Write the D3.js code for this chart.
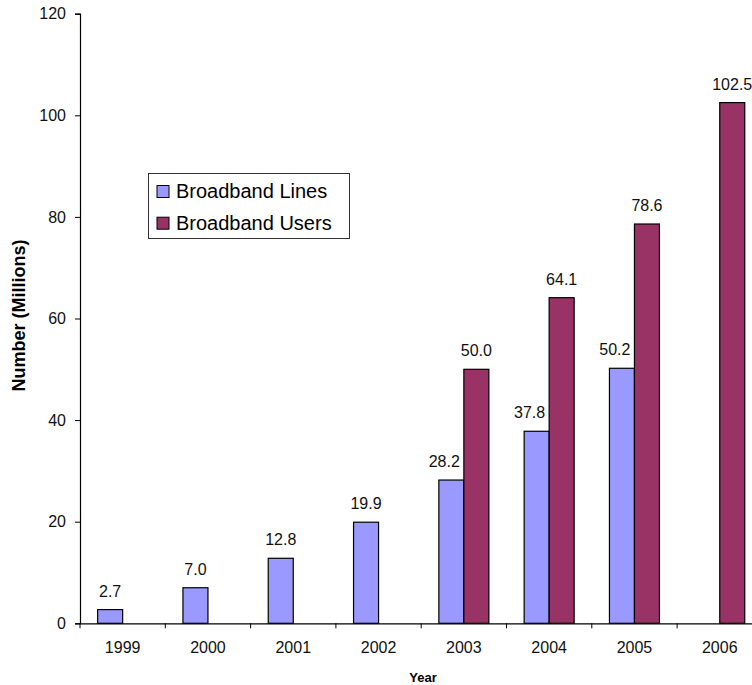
<!DOCTYPE html>
<html>
<head>
<meta charset="utf-8">
<script src="https://cdn.jsdelivr.net/npm/d3@7/dist/d3.min.js"></script>
<style>
  html, body { margin: 0; padding: 0; background: #fff; }
  svg { display: block; font-family: Arial, "Liberation Sans", sans-serif; }
</style>
</head>
<body>
<svg id="chart" width="752" height="685"></svg>
<script>
// Broadband lines vs. users, millions
const years = ["1999", "2000", "2001", "2002", "2003", "2004", "2005", "2006"];
const broadbandLines = [2.7, 7.0, 12.8, 19.9, 28.2, 37.8, 50.2, null];
const broadbandUsers = [null, null, null, null, 50.0, 64.1, 78.6, 102.5];
const seriesNames = ["Broadband Lines", "Broadband Users"];
const seriesColors = ["#9999FF", "#993366"];
const yTicks = [0, 20, 40, 60, 80, 100, 120];

const svg = d3.select("#chart");

const x0 = d3.scaleBand().domain(years).range([80, 762.4]).paddingInner(0).paddingOuter(0);
const x1 = d3.scaleBand().domain(seriesNames).range([0, x0.bandwidth()]).paddingInner(0).paddingOuter(0.706);
const y = d3.scaleLinear().domain([0, 120]).range([623.3, 13.7]);

const rows = [];
years.forEach((yr, i) => {
  const pair = [broadbandLines[i], broadbandUsers[i]];
  pair.forEach((v, s) => {
    if (v != null) rows.push({
      year: yr, series: seriesNames[s], color: seriesColors[s], value: v,
      // a Lines label sitting next to a Users bar is pushed left so it clears that bar
      crowded: s === 0 && pair[1] != null
    });
  });
});

// Y axis
const yAxis = svg.append("g")
  .attr("transform", "translate(80,0)")
  .call(d3.axisLeft(y).tickValues(yTicks).tickSize(5).tickPadding(9).tickFormat(d3.format("d")));
yAxis.select(".domain").attr("stroke", "#000").attr("stroke-width", 1.2);
yAxis.selectAll(".tick line").attr("stroke", "#000");
yAxis.selectAll(".tick text").attr("font-size", 16).attr("fill", "#111")
  .attr("font-family", "Arial, 'Liberation Sans', sans-serif");

// X axis: labels centred in each band, ticks on band boundaries
const xAxis = svg.append("g")
  .attr("transform", `translate(0,${y(0)})`)
  .call(d3.axisBottom(x0).tickSize(0).tickPadding(18));
xAxis.select(".domain").attr("stroke", "#000").attr("stroke-width", 1.2);
xAxis.selectAll(".tick text").attr("font-size", 16).attr("fill", "#111")
  .attr("font-family", "Arial, 'Liberation Sans', sans-serif");
xAxis.selectAll(".boundary")
  .data(years)
  .join("line")
  .attr("class", "boundary")
  .attr("x1", d => x0(d)).attr("x2", d => x0(d))
  .attr("y1", 0).attr("y2", 5)
  .attr("stroke", "#000");

// Bars
svg.append("g").selectAll("rect")
  .data(rows)
  .join("rect")
  .attr("x", d => x0(d.year) + x1(d.series))
  .attr("y", d => y(d.value))
  .attr("width", x1.bandwidth())
  .attr("height", d => y(0) - y(d.value))
  .attr("fill", d => d.color)
  .attr("stroke", "#000")
  .attr("stroke-width", 1.2);

// Value labels
svg.append("g").selectAll("text")
  .data(rows)
  .join("text")
  .attr("x", d => d.crowded
    ? x0(d.year) + x1(d.series) + x1.bandwidth() - 4
    : x0(d.year) + x1(d.series) + x1.bandwidth() / 2)
  .attr("y", d => y(d.value) - 13)
  .attr("text-anchor", d => d.crowded ? "end" : "middle")
  .attr("font-size", 16)
  .attr("fill", "#111")
  .text(d => d3.format(".1f")(d.value));

// Axis titles
svg.append("text")
  .attr("x", 423).attr("y", 682)
  .attr("text-anchor", "middle")
  .attr("font-size", 13)
  .attr("font-weight", "bold")
  .text("Year");

svg.append("text")
  .attr("transform", "translate(25,315.5) rotate(-90)")
  .attr("text-anchor", "middle")
  .attr("font-size", 18)
  .attr("font-weight", "bold")
  .text("Number (Millions)");

// Legend
const legend = svg.append("g");
legend.append("rect")
  .attr("x", 148.5).attr("y", 173.5).attr("width", 201).attr("height", 65)
  .attr("fill", "#fff").attr("stroke", "#333").attr("stroke-width", 1);
seriesNames.forEach((name, i) => {
  const cy = 191.5 + i * 31.7;
  legend.append("rect")
    .attr("x", 157).attr("y", cy - 6).attr("width", 12).attr("height", 12)
    .attr("fill", seriesColors[i]).attr("stroke", "#000").attr("stroke-width", 1);
  legend.append("text")
    .attr("x", 176).attr("y", cy + 6.5)
    .attr("font-size", 20)
    .attr("fill", "#000")
    .text(name);
});
</script>
</body>
</html>
